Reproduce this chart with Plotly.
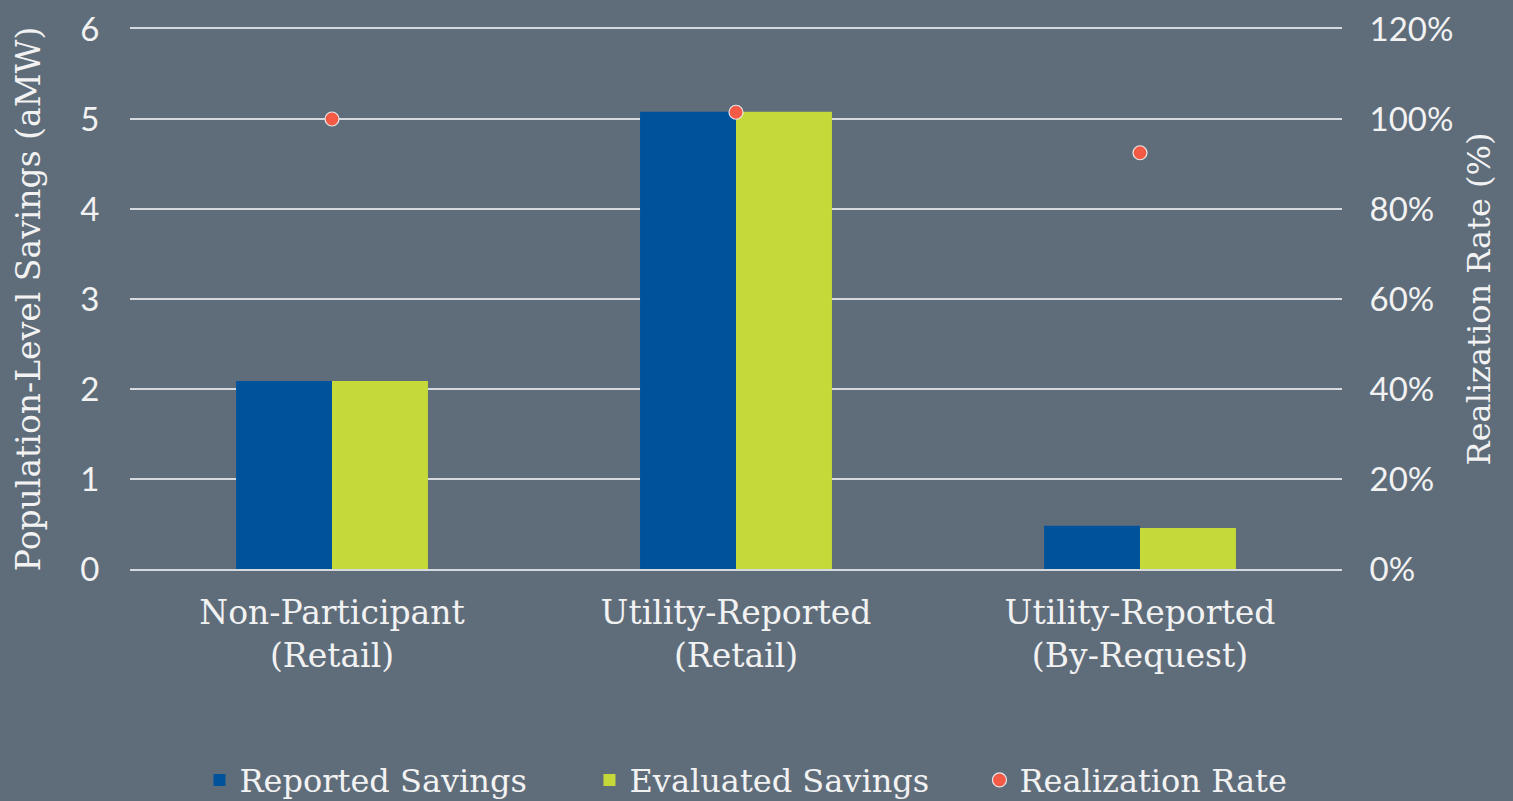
import plotly.graph_objects as go

categories = ["Non-Participant<br>(Retail)", "Utility-Reported<br>(Retail)", "Utility-Reported<br>(By-Request)"]
reported = [2.09, 5.08, 0.48]
evaluated = [2.09, 5.08, 0.455]
realization = [1.00, 1.015, 0.925]

BG = "#5f6d7b"
TXT = "#f2f2f2"
GRID = "#d5d8dc"
SERIF = "DejaVu Serif, serif"
SANS = "Lato, Open Sans, sans-serif"

fig = go.Figure()
fig.add_trace(go.Bar(x=categories, y=reported, name="Reported Savings",
                     marker=dict(color="#00539b", line=dict(width=0))))
fig.add_trace(go.Bar(x=categories, y=evaluated, name="Evaluated Savings",
                     marker=dict(color="#c5da38", line=dict(width=0))))
fig.add_trace(go.Scatter(x=categories, y=realization, name="Realization Rate", yaxis="y2",
                         mode="markers",
                         marker=dict(color="#f45a45", size=14, line=dict(color="#e8e8e8", width=1.2))))

fig.update_layout(
    width=1513, height=801,
    paper_bgcolor=BG, plot_bgcolor=BG,
    margin=dict(l=130, r=171, t=29, b=232, autoexpand=False),
    barmode="group", bargap=0.525, bargroupgap=0,
    font=dict(family=SERIF, color=TXT, size=24),
    xaxis=dict(showgrid=False, zeroline=False,
               showline=True, mirror=True, linecolor=GRID, linewidth=1.5,
               tickfont=dict(family=SERIF, size=33, color=TXT),
               ticks="outside", ticklen=14, tickcolor="rgba(0,0,0,0)"),
    yaxis=dict(range=[0, 6], dtick=1, showgrid=True, gridcolor=GRID, gridwidth=1.5,
               zeroline=False, showline=False,
               tickfont=dict(family=SANS, size=33, color=TXT),
               ticks="outside", ticklen=23, tickcolor="rgba(0,0,0,0)",
               title=dict(text="Population-Level Savings (aMW)",
                          font=dict(family=SERIF, size=33, color=TXT), standoff=29)),
    yaxis2=dict(range=[0, 1.2], dtick=0.2, tickformat=".0%", overlaying="y", side="right",
                showgrid=False, zeroline=False, showline=False,
                tickfont=dict(family=SANS, size=33, color=TXT),
                ticks="outside", ticklen=20, tickcolor="rgba(0,0,0,0)",
                title=dict(text="Realization Rate (%)",
                           font=dict(family=SERIF, size=32, color=TXT), standoff=15)),
    legend=dict(orientation="h", x=0.54, xanchor="center", yref="container", y=0.026, yanchor="middle",
                font=dict(family=SERIF, size=32, color=TXT), bgcolor="rgba(0,0,0,0)",
                itemwidth=30, tracegroupgap=0, entrywidth=345),
    showlegend=True,
)

fig.write_html("out.html", config={"displayModeBar": False},
               post_script="document.body.style.margin='0';document.body.style.background='#5f6d7b';")
